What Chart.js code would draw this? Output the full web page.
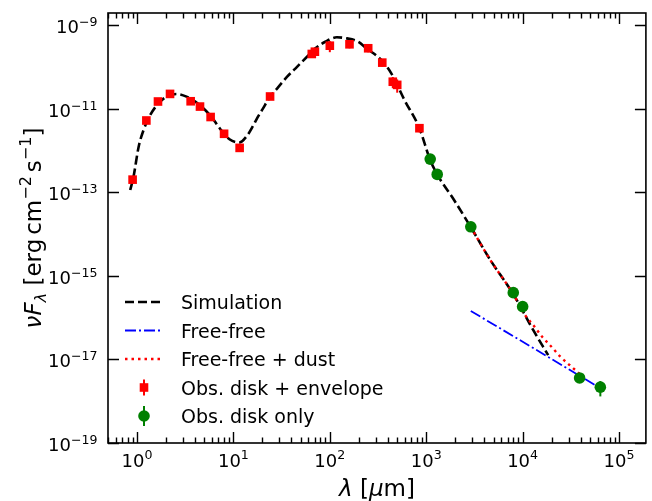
<!DOCTYPE html>
<html>
<head>
<meta charset="utf-8">
<script src="https://cdn.jsdelivr.net/npm/chart.js@4.4.1/dist/chart.umd.min.js"></script>
<style>
  html, body { margin: 0; padding: 0; background: #fff; }
  canvas { display: block; }
</style>
</head>
<body>
<canvas id="sed" width="652" height="501"></canvas>
<script>
// wavelengths in micron, fluxes nuF_lambda in erg cm^-2 s^-1

// Obs. disk + envelope
var envLambda = [0.9, 1.25, 1.65, 2.2, 3.6, 4.5, 5.8, 8.0, 11.6, 24, 65, 70, 100, 160, 250, 350, 450, 500, 850];
var envFlux = [2.0e-13, 5.2e-12, 1.48e-11, 2.25e-11, 1.5e-11, 1.12e-11, 6.3e-12, 2.5e-12, 1.15e-12, 1.95e-11,
               2.03e-10, 2.3e-10, 3.2e-10, 3.46e-10, 2.78e-10, 1.26e-10, 4.4e-11, 3.7e-11, 3.4e-12];
var envErr = [0.1, 0.05, 0.05, 0.05, 0.05, 0.05, 0.05, 0.05, 0.1, 0.1, 0.2, 0.2, 0.3, 0.2, 0.2, 0.2, 0.3, 0.35, 0.2];

// Obs. disk only
var diskLambda = [1100, 1300, 2900, 8000, 10000, 39000, 64000];
var diskFlux = [6.2e-13, 2.67e-13, 1.49e-14, 3.95e-16, 1.83e-16, 3.6e-18, 2.17e-18];
var diskErr = [0.1, 0.1, 0.1, 0.15, 0.15, 0.2, 0.4];

// Simulation
var simLambda = [0.85, 0.92, 1.04, 1.17, 1.37, 1.67, 2.03, 2.58, 3.26, 4.47, 5.9, 7.2, 9.1, 11.5, 14.0, 15.8,
                 17.8, 20.0, 24.0, 28.5, 36.1, 45.7, 58, 70.8, 89.7, 118, 150, 197, 240, 342, 434, 595,
                 850, 1091, 1300, 1944, 2884, 4624, 7910, 12900, 18400];
var simFlux = [1.13e-13, 2.35e-13, 1.23e-12, 3.08e-12, 7.0e-12, 1.34e-11, 1.93e-11, 2.23e-11, 1.93e-11,
               1.22e-11, 6.4e-12, 3.4e-12, 1.85e-12, 1.55e-12, 2.33e-12, 3.69e-12, 6.19e-12, 9.6e-12,
               1.93e-11, 3.06e-11, 5.8e-11, 1.0e-10, 1.74e-10, 2.77e-10, 3.98e-10, 5.08e-10, 4.8e-10,
               3.98e-10, 2.77e-10, 1.46e-10, 6.99e-11, 1.6e-11, 3.4e-12, 6.2e-13, 2.67e-13, 6.5e-14,
               1.49e-14, 2.39e-15, 3.8e-16, 5.0e-17, 1.27e-17];

// Free-free
var ffLambda = [2900, 13960, 64000];
var ffFlux = [1.44e-16, 1.68e-17, 2.04e-18];

// Free-free + dust
var ffdLambda = [2884, 4624, 7910, 10600, 13100, 16100, 19900, 24600, 30700, 39000];
var ffdFlux = [1.49e-14, 2.39e-15, 3.8e-16, 1.15e-16, 6.3e-17, 3.38e-17, 2.01e-17, 1.16e-17, 7.35e-18, 4.5e-18];

var xTickExp = [0, 1, 2, 3, 4, 5];
var yTickExp = [-9, -11, -13, -15, -17, -19];

function pts(xs, ys) {
  return xs.map(function (x, i) { return { x: x, y: ys[i] }; });
}

var FONT = "'DejaVu Sans', sans-serif";

// draw a run of text pieces (sub/superscripts, italics) along the baseline
function richText(ctx, parts, x, y, align) {
  var w = 0;
  parts.forEach(function (p) {
    ctx.font = (p.i ? "italic " : "") + p.s + "px " + FONT;
    p.w = ctx.measureText(p.t).width;
    w += p.w + (p.g || 0);
  });
  var cx = align === "center" ? x - w / 2 : align === "right" ? x - w : x;
  ctx.textAlign = "left";
  ctx.textBaseline = "alphabetic";
  parts.forEach(function (p) {
    cx += p.g || 0;
    ctx.font = (p.i ? "italic " : "") + p.s + "px " + FONT;
    ctx.fillText(p.t, cx, y + (p.dy || 0));
    cx += p.w;
  });
}

function powParts(e) {
  return [{ t: "10", s: 18 }, { t: e < 0 ? "\u2212" + (-e) : String(e), s: 12.6, dy: -7.5 }];
}

var errorBars = {
  id: "errorBars",
  beforeDatasetDraw: function (chart, args) {
    var ds = chart.data.datasets[args.index];
    if (!ds.errs) return;
    var ctx = chart.ctx, xs = chart.scales.x, ys = chart.scales.y;
    ctx.save();
    ctx.strokeStyle = ds.backgroundColor;
    ctx.lineWidth = 2;
    ds.data.forEach(function (p, i) {
      var px = xs.getPixelForValue(p.x);
      var lo = p.y * (1 - ds.errs[i]), hi = p.y * (1 + ds.errs[i]);
      ctx.beginPath();
      ctx.moveTo(px, ys.getPixelForValue(lo));
      ctx.lineTo(px, ys.getPixelForValue(hi));
      ctx.stroke();
    });
    ctx.restore();
  }
};

var frame = {
  id: "frame",
  afterDraw: function (chart) {
    var ctx = chart.ctx, a = chart.chartArea, xs = chart.scales.x, ys = chart.scales.y;
    ctx.save();
    ctx.strokeStyle = "#000";
    ctx.fillStyle = "#000";
    ctx.lineWidth = 1.4;

    // x ticks, major and minor, on bottom and top
    for (var e = -1; e <= 5; e++) {
      for (var m = 1; m <= 9; m++) {
        var v = m * Math.pow(10, e);
        if (v < xs.min || v > xs.max) continue;
        var px = Math.round(xs.getPixelForValue(v)) + 0.5;
        var len = m === 1 ? 11 : 5.5;
        ctx.beginPath();
        ctx.moveTo(px, a.bottom); ctx.lineTo(px, a.bottom - len);
        ctx.moveTo(px, a.top); ctx.lineTo(px, a.top + len);
        ctx.stroke();
      }
    }
    // y ticks every second decade
    yTickExp.forEach(function (e) {
      var py = Math.round(ys.getPixelForValue(Math.pow(10, e))) + 0.5;
      ctx.beginPath();
      ctx.moveTo(a.left, py); ctx.lineTo(a.left + 11, py);
      ctx.moveTo(a.right, py); ctx.lineTo(a.right - 11, py);
      ctx.stroke();
      richText(ctx, powParts(e), 97.5, py + 7.5, "right");
    });
    xTickExp.forEach(function (e) {
      var px = xs.getPixelForValue(Math.pow(10, e));
      richText(ctx, powParts(e), px, 466.5, "center");
    });

    ctx.lineWidth = 1.6;
    ctx.strokeRect(a.left, a.top, a.right - a.left, a.bottom - a.top);

    // axis titles
    richText(ctx, [{ t: "\u03bb", s: 23, i: 1 }, { t: " [", s: 23 }, { t: "\u03bc", s: 23, i: 1 }, { t: "m]", s: 23 }],
      (a.left + a.right) / 2, 496, "center");
    ctx.save();
    ctx.translate(41, (a.top + a.bottom) / 2);
    ctx.rotate(-Math.PI / 2);
    richText(ctx, [
      { t: "\u03bd", s: 23, i: 1 }, { t: "F", s: 23, i: 1 }, { t: "\u03bb", s: 16, i: 1, dy: 5 },
      { t: " [erg", s: 23 }, { t: "cm", s: 23, g: 4 }, { t: "\u22122", s: 16, dy: -10 },
      { t: "s", s: 23, g: 4 }, { t: "\u22121", s: 16, dy: -10 }, { t: "]", s: 23 }
    ], 0, 0, "center");
    ctx.restore();

    // legend
    var rows = [302, 330.5, 359, 387.5, 416];
    var labels = ["Simulation", "Free-free", "Free-free + dust", "Obs. disk + envelope", "Obs. disk only"];
    var lines = [
      { c: "#000", w: 2.6, d: [9, 4] },
      { c: "#0000ff", w: 1.8, d: [11, 3, 2, 3] },
      { c: "#ff0000", w: 2.4, d: [2.5, 4] }
    ];
    lines.forEach(function (l, i) {
      ctx.beginPath();
      ctx.setLineDash(l.d);
      ctx.strokeStyle = l.c;
      ctx.lineWidth = l.w;
      ctx.moveTo(125, rows[i]); ctx.lineTo(163, rows[i]);
      ctx.stroke();
    });
    ctx.setLineDash([]);
    ctx.lineWidth = 2;
    ctx.strokeStyle = "#ff0000"; ctx.fillStyle = "#ff0000";
    ctx.beginPath(); ctx.moveTo(144, rows[3] - 8); ctx.lineTo(144, rows[3] + 8); ctx.stroke();
    ctx.fillRect(144 - 4.3, rows[3] - 4.3, 8.6, 8.6);
    ctx.strokeStyle = "#008000"; ctx.fillStyle = "#008000";
    ctx.beginPath(); ctx.moveTo(144, rows[4] - 10); ctx.lineTo(144, rows[4] + 10); ctx.stroke();
    ctx.beginPath(); ctx.arc(144, rows[4], 5.8, 0, Math.PI * 2); ctx.fill();

    ctx.fillStyle = "#000";
    ctx.font = "19px " + FONT;
    ctx.textAlign = "left";
    ctx.textBaseline = "alphabetic";
    labels.forEach(function (t, i) { ctx.fillText(t, 181, rows[i] + 7); });
    ctx.restore();
  }
};

new Chart("sed", {
  type: "scatter",
  data: {
    datasets: [
      {
        label: "Obs. disk only",
        data: pts(diskLambda, diskFlux),
        errs: diskErr,
        backgroundColor: "#008000",
        borderColor: "#008000",
        pointStyle: "circle",
        pointRadius: 5.8,
        borderWidth: 0,
        order: 0,
      },
      {
        label: "Obs. disk + envelope",
        data: pts(envLambda, envFlux),
        errs: envErr,
        backgroundColor: "#ff0000",
        borderColor: "#ff0000",
        pointStyle: "rect",
        pointRadius: 6.1,
        borderWidth: 0,
        order: 1,
      },
      {
        label: "Free-free + dust",
        data: pts(ffdLambda, ffdFlux),
        showLine: true,
        pointRadius: 0,
        borderColor: "#ff0000",
        borderWidth: 2.4,
        borderDash: [2.5, 4],
        cubicInterpolationMode: "monotone",
        order: 2,
      },
      {
        label: "Free-free",
        data: pts(ffLambda, ffFlux),
        showLine: true,
        pointRadius: 0,
        borderColor: "#0000ff",
        borderWidth: 1.8,
        borderDash: [11, 3, 2, 3],
        order: 3,
      },
      {
        label: "Simulation",
        data: pts(simLambda, simFlux),
        showLine: true,
        pointRadius: 0,
        borderColor: "#000",
        borderWidth: 2.6,
        borderDash: [9, 4],
        cubicInterpolationMode: "monotone",
        order: 4,
      },
    ],
  },
  options: {
    responsive: false,
    animation: false,
    devicePixelRatio: 1,
    layout: { padding: { left: 108, right: 2, top: 13, bottom: 58 } },
    scales: {
      x: { type: "logarithmic", min: 0.5, max: 1.9e5, display: false },
      y: { type: "logarithmic", min: 1e-19, max: 1.94e-9, display: false },
    },
    plugins: {
      legend: { display: false },
      tooltip: { enabled: false },
    },
  },
  plugins: [errorBars, frame],
});
</script>
</body>
</html>
